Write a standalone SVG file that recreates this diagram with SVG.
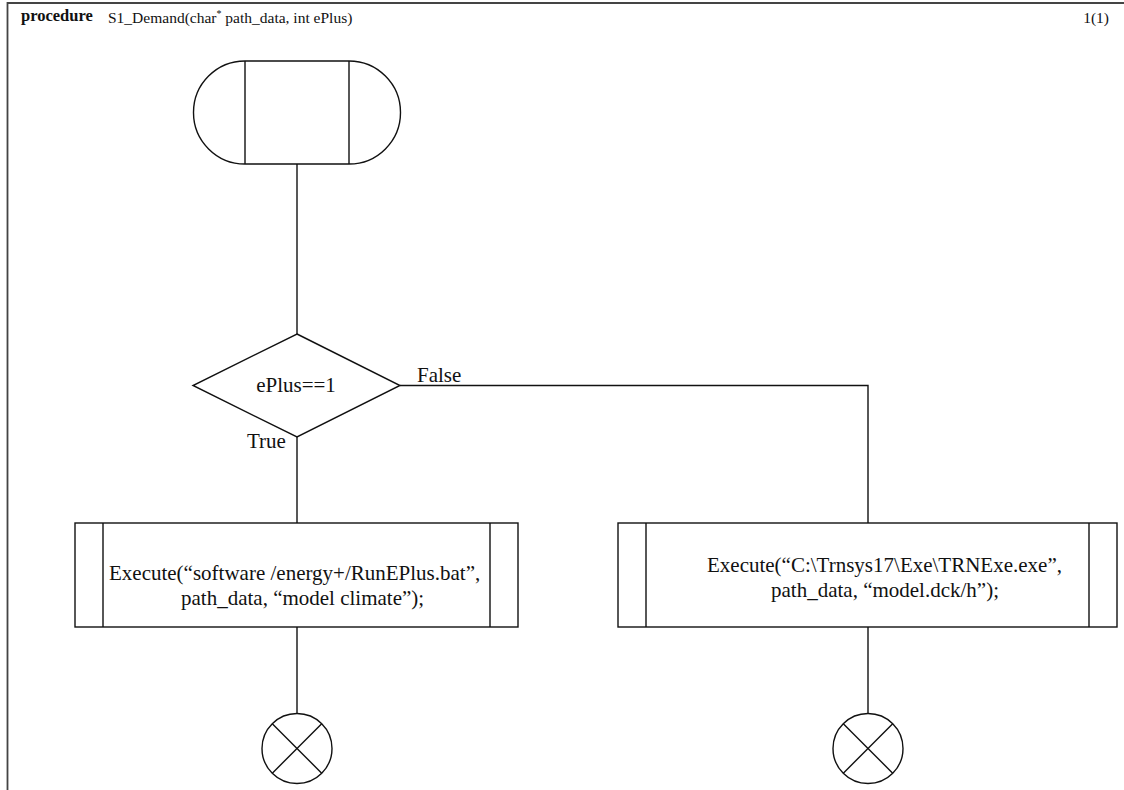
<svg xmlns="http://www.w3.org/2000/svg" width="1124" height="790" viewBox="0 0 1124 790">
<style>
  text { font-family: "Liberation Serif", "Times New Roman", serif; font-size: 21px; fill: #111; }
  .t { font-size: 15.5px; }
  .b { font-weight: bold; font-size: 16.5px; }
  .s { fill: none; stroke: #111; stroke-width: 1.4; }
  .n { fill: #fff; stroke: #111; stroke-width: 1.4; }
  .frame { fill: none; stroke: #444; stroke-width: 1.8; }
</style>
<rect width="1124" height="790" fill="#fff"/>
<g id="frame">
  <path class="frame" d="M7.5,790 V3 H1124"/>
  <text class="b" x="21" y="21">procedure</text>
  <text class="t" x="108" y="23">S1_Demand(char<tspan font-size="10" dy="-6">*</tspan><tspan dy="6"> path_data, int ePlus)</tspan></text>
  <text class="t" x="1109" y="23" text-anchor="end">1(1)</text>
</g>
<g id="connectors">
  <path class="s" d="M297,164 V334"/>
  <path class="s" d="M297,437 V523"/>
  <path class="s" d="M400,385.5 H868 V523"/>
  <path class="s" d="M297,627 V714"/>
  <path class="s" d="M868,627 V714"/>
</g>
<g id="start">
  <path class="n" d="M245,61 H349 A51.5,51.5 0 0 1 349,164 H245 A51.5,51.5 0 0 1 245,61 Z"/>
  <path class="s" d="M245,61 V164 M349,61 V164"/>
</g>
<g id="decision">
  <path class="n" d="M297,334 L400,385.5 L297,437 L193,385.5 Z"/>
  <text x="296" y="392" text-anchor="middle">ePlus==1</text>
  <text x="417" y="382">False</text>
  <text x="247" y="448">True</text>
</g>
<g id="exec-eplus">
  <rect class="n" x="75" y="523" width="443" height="104"/>
  <path class="s" d="M103,523 V627 M490,523 V627"/>
  <text x="109" y="580">Execute(“software /energy+/RunEPlus.bat”,</text>
  <text x="181" y="605">path_data, “model climate”);</text>
</g>
<g id="exec-trnsys">
  <rect class="n" x="618" y="523" width="499" height="104"/>
  <path class="s" d="M646,523 V627 M1089,523 V627"/>
  <text x="707" y="572">Execute(“C:\Trnsys17\Exe\TRNExe.exe”,</text>
  <text x="771" y="597">path_data, “model.dck/h”);</text>
</g>
<g id="end-left">
  <circle class="n" cx="297" cy="748.5" r="35"/>
  <path class="s" d="M272.3,723.8 L321.7,773.2 M321.7,723.8 L272.3,773.2"/>
</g>
<g id="end-right">
  <circle class="n" cx="868" cy="748.5" r="35"/>
  <path class="s" d="M843.3,723.8 L892.7,773.2 M892.7,723.8 L843.3,773.2"/>
</g>
</svg>
